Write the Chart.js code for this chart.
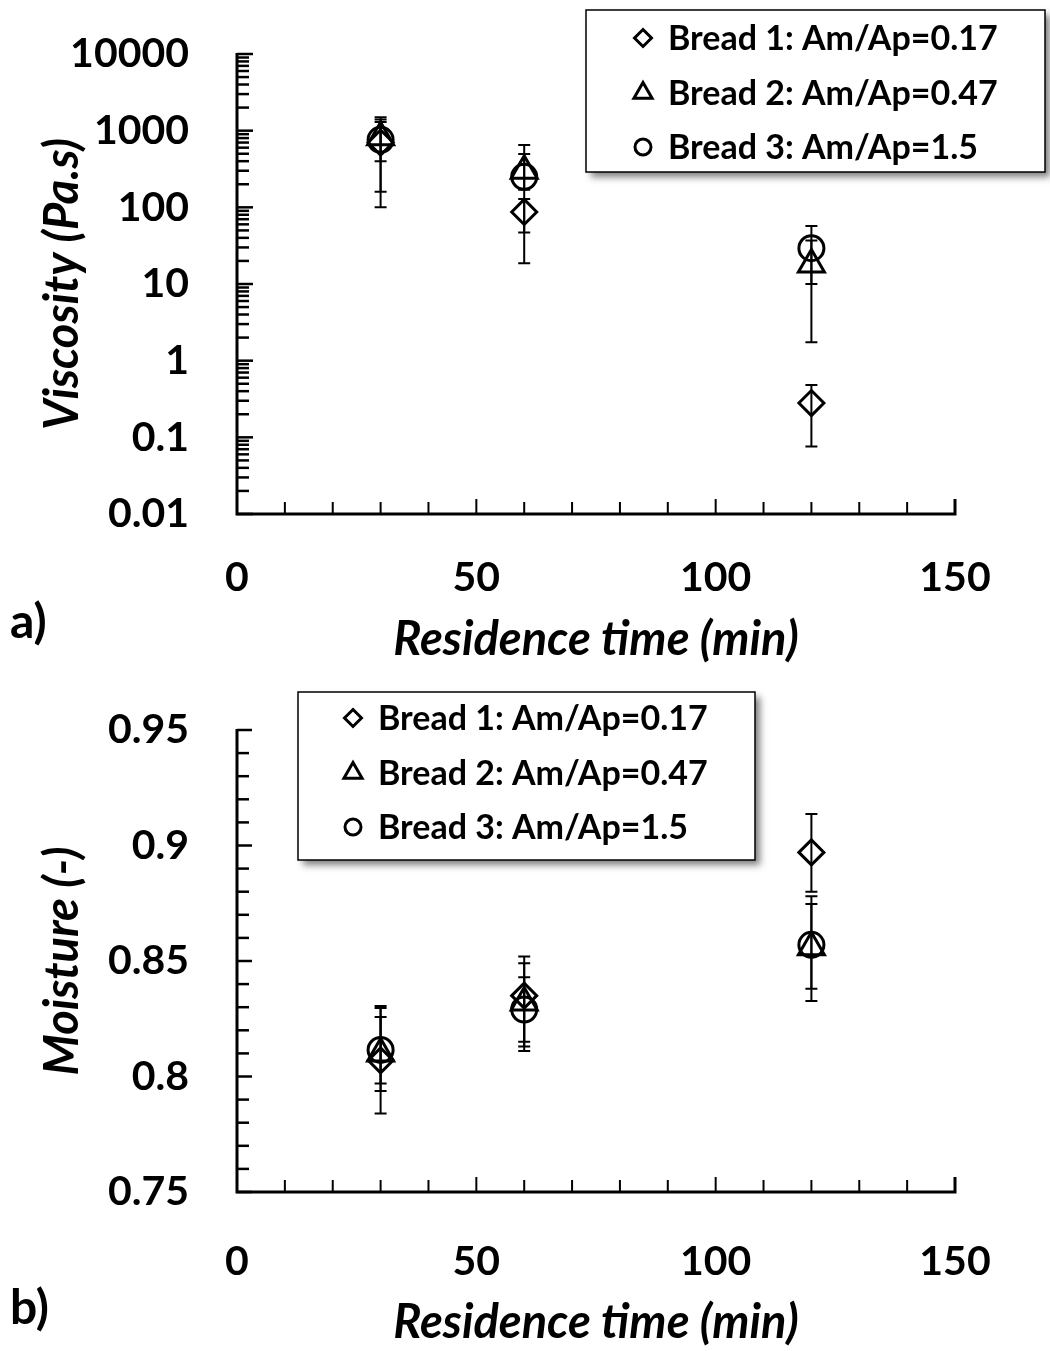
<!DOCTYPE html>
<html>
<head>
<meta charset="utf-8">
<script src="https://cdn.jsdelivr.net/npm/chart.js@4.4.0/dist/chart.umd.min.js"></script>
<style>
  body { margin: 0; background: #fff; width: 1050px; height: 1351px; position: relative; overflow: hidden; }
  canvas { position: absolute; left: 0; }
  #viscChart { top: 0; }
  #moistChart { top: 680px; }
  .panel { position: absolute; left: 10px; font: bold 48px Lato, sans-serif; line-height: 56px; color: #000; }
</style>
</head>
<body>
<canvas id="viscChart" width="1050" height="680"></canvas>
<canvas id="moistChart" width="1050" height="671"></canvas>
<div class="panel" style="top:592px">a)</div>
<div class="panel" style="top:1278px">b)</div>
<script>
// --- data ---
const residenceTime = [30, 60, 120];
const seriesNames = ['Bread 1: Am/Ap=0.17', 'Bread 2: Am/Ap=0.47', 'Bread 3: Am/Ap=1.5'];
const markerStyles = ['rectRot', 'triangle', 'circle'];

// viscosity (Pa.s) + error bar ends
const viscBread1 = [700, 87, 0.28];
const viscBread1Lo = [100, 47, 0.076];
const viscBread1Hi = [1300, 128, 0.48];
const viscBread2 = [820, 300, 18];
const viscBread2Lo = [400, 170, 10];
const viscBread2Hi = [1500, 650, 37];
const viscBread3 = [760, 250, 29.3];
const viscBread3Lo = [160, 18.7, 1.74];
const viscBread3Hi = [1400, 495, 57];

// moisture (-) + error bar ends
const moistBread1 = [0.807, 0.835, 0.897];
const moistBread1Lo = [0.784, 0.813, 0.880];
const moistBread1Hi = [0.8305, 0.852, 0.9136];
const moistBread2 = [0.810, 0.832, 0.856];
const moistBread2Lo = [0.797, 0.811, 0.8327];
const moistBread2Hi = [0.8258, 0.849, 0.8747];
const moistBread3 = [0.8115, 0.829, 0.857];
const moistBread3Lo = [0.7937, 0.815, 0.838];
const moistBread3Hi = [0.8297, 0.843, 0.878];

const xTicks = [0, 50, 100, 150];
const xTickLabels = ['0', '50', '100', '150'];
const viscTicks = [0.01, 0.1, 1, 10, 100, 1000, 10000];
const viscTickLabels = ['0.01', '0.1', '1', '10', '100', '1000', '10000'];
const moistTicks = [0.75, 0.8, 0.85, 0.9, 0.95];
const moistTickLabels = ['0.75', '0.8', '0.85', '0.9', '0.95'];

const tickFont = { family: 'Lato', size: 41, weight: 'bold' };
const titleFont = { family: 'Lato', size: 47, weight: 'bold', style: 'italic' };

// axis lines with inward ticks (Excel style)
const inwardAxes = {
  id: 'inwardAxes',
  beforeDatasetsDraw(chart, args, opts) {
    const { ctx, chartArea: a, scales: { x, y } } = chart;
    ctx.save();
    ctx.strokeStyle = '#000';
    ctx.lineWidth = 2;
    for (let v = 10; v <= 150; v += 10) {
      const px = x.getPixelForValue(v);
      const len = v % 50 === 0 ? 15 : 12;
      ctx.beginPath(); ctx.moveTo(px, a.bottom); ctx.lineTo(px, a.bottom - len); ctx.stroke();
    }
    ctx.lineWidth = 2.5;
    const yTick = (v, len) => {
      const py = y.getPixelForValue(v);
      ctx.beginPath(); ctx.moveTo(a.left, py); ctx.lineTo(a.left + len, py); ctx.stroke();
    };
    if (opts.log) {
      for (let e = -2; e <= 4; e++) {
        yTick(Math.pow(10, e), 16);
        if (e < 4) for (let k = 2; k <= 9; k++) yTick(k * Math.pow(10, e), 12);
      }
    } else {
      for (let i = 0; i <= 20; i++) yTick(0.75 + i * 0.01, i % 5 === 0 ? 15 : 12);
    }
    ctx.lineWidth = 3;
    ctx.beginPath();
    ctx.moveTo(a.left, a.top - 1);
    ctx.lineTo(a.left, a.bottom);
    ctx.lineTo(a.right, a.bottom);
    ctx.lineTo(a.right, a.bottom - 15);
    ctx.stroke();
    ctx.restore();
  }
};

// vertical error bars with caps
const errorBars = {
  id: 'errorBars',
  afterDatasetsDraw(chart) {
    const { ctx, scales: { x, y } } = chart;
    ctx.save();
    ctx.strokeStyle = '#000';
    ctx.lineWidth = 2;
    chart.data.datasets.forEach(ds => {
      ds.data.forEach((p, i) => {
        const px = x.getPixelForValue(p.x);
        const lo = y.getPixelForValue(ds.errLo[i]);
        const hi = y.getPixelForValue(ds.errHi[i]);
        ctx.beginPath();
        ctx.moveTo(px, lo); ctx.lineTo(px, hi);
        ctx.moveTo(px - 6, lo); ctx.lineTo(px + 6, lo);
        ctx.moveTo(px - 6, hi); ctx.lineTo(px + 6, hi);
        ctx.stroke();
      });
    });
    ctx.restore();
  }
};

function drawMarker(ctx, style, cx, cy) {
  ctx.beginPath();
  if (style === 'rectRot') {
    const r = 8.5;
    ctx.moveTo(cx, cy - r); ctx.lineTo(cx + r, cy); ctx.lineTo(cx, cy + r); ctx.lineTo(cx - r, cy); ctx.closePath();
  } else if (style === 'triangle') {
    const r = 10.5;
    ctx.moveTo(cx, cy - r);
    ctx.lineTo(cx + r * 0.866, cy + r * 0.5);
    ctx.lineTo(cx - r * 0.866, cy + r * 0.5);
    ctx.closePath();
  } else {
    ctx.arc(cx, cy, 8, 0, Math.PI * 2);
  }
  ctx.stroke();
}

// boxed legend with drop shadow
const boxLegend = {
  id: 'boxLegend',
  afterDraw(chart, args, o) {
    const ctx = chart.ctx;
    ctx.save();
    ctx.shadowColor = 'rgba(0,0,0,0.5)';
    ctx.shadowBlur = 7;
    ctx.shadowOffsetX = 5;
    ctx.shadowOffsetY = 5;
    ctx.fillStyle = '#fff';
    ctx.fillRect(o.left, o.top, o.width, o.height);
    ctx.restore();
    ctx.save();
    ctx.strokeStyle = '#000';
    ctx.lineWidth = 1.5;
    ctx.strokeRect(o.left, o.top, o.width, o.height);
    ctx.lineWidth = 3;
    ctx.fillStyle = '#000';
    ctx.font = 'bold 34px Lato';
    ctx.textBaseline = 'middle';
    chart.data.datasets.forEach((ds, i) => {
      const cy = o.top + o.rows[i];
      drawMarker(ctx, markerStyles[i], o.markerX, cy);
      ctx.fillText(ds.label, o.textX, cy + 1);
    });
    ctx.restore();
  }
};

function makeDatasets(values, los, his) {
  return values.map((vals, s) => ({
    label: seriesNames[s],
    data: residenceTime.map((t, i) => ({ x: t, y: vals[i] })),
    errLo: los[s],
    errHi: his[s],
    pointStyle: markerStyles[s],
    pointRadius: [12.5, 15, 12.5][s],
    pointBorderWidth: 3,
    pointBorderColor: '#000',
    pointBackgroundColor: 'rgba(0,0,0,0)',
    showLine: false
  }));
}

function xScale(labelPad, titlePad, height) {
  return {
    type: 'linear', min: 0, max: 150,
    afterBuildTicks: s => { s.ticks = xTicks.map(v => ({ value: v })); },
    ticks: { callback: (v, i) => xTickLabels[i], font: tickFont, color: '#000', padding: labelPad, maxRotation: 0 },
    grid: { display: false, drawTicks: false },
    border: { display: false },
    title: { display: true, text: 'Residence time (min)', font: titleFont, color: '#000', padding: { top: 0, bottom: titlePad } },
    afterFit: s => { s.height = height; s.paddingLeft = 0; s.paddingRight = 0; }
  };
}

function yTitle(text) {
  return { display: true, text: text, font: titleFont, color: '#000', padding: { top: 35, bottom: 0 } };
}

new Chart(document.getElementById('viscChart'), {
  type: 'scatter',
  data: {
    datasets: makeDatasets(
      [viscBread1, viscBread2, viscBread3],
      [viscBread1Lo, viscBread2Lo, viscBread3Lo],
      [viscBread1Hi, viscBread2Hi, viscBread3Hi])
  },
  options: {
    responsive: false,
    animation: false,
    events: [],
    layout: { autoPadding: false, padding: { left: 0, right: 95, top: 54, bottom: 0 } },
    scales: {
      x: xScale(39, 12, 166),
      y: {
        type: 'logarithmic', min: 0.01, max: 10000,
        afterBuildTicks: s => { s.ticks = viscTicks.map(v => ({ value: v })); },
        ticks: { callback: (v, i) => viscTickLabels[i], font: tickFont, color: '#000', padding: 48 },
        grid: { display: false, drawTicks: false },
        border: { display: false },
        title: yTitle('Viscosity (Pa.s)'),
        afterFit: s => { s.width = 237; s.paddingTop = 0; s.paddingBottom = 0; }
      }
    },
    plugins: {
      legend: { display: false },
      tooltip: { enabled: false },
      inwardAxes: { log: true },
      boxLegend: { left: 586, top: 10, width: 459, height: 162, markerX: 643, textX: 668, rows: [28, 83, 137] }
    }
  },
  plugins: [inwardAxes, errorBars, boxLegend]
});

new Chart(document.getElementById('moistChart'), {
  type: 'scatter',
  data: {
    datasets: makeDatasets(
      [moistBread1, moistBread2, moistBread3],
      [moistBread1Lo, moistBread2Lo, moistBread3Lo],
      [moistBread1Hi, moistBread2Hi, moistBread3Hi])
  },
  options: {
    responsive: false,
    animation: false,
    events: [],
    layout: { autoPadding: false, padding: { left: 0, right: 95, top: 50, bottom: 0 } },
    scales: {
      x: xScale(45, 0, 159),
      y: {
        type: 'linear', min: 0.75, max: 0.95,
        afterBuildTicks: s => { s.ticks = moistTicks.map(v => ({ value: v })); },
        ticks: { callback: (v, i) => moistTickLabels[i], font: tickFont, color: '#000', padding: 48 },
        grid: { display: false, drawTicks: false },
        border: { display: false },
        title: yTitle('Moisture (-)'),
        afterFit: s => { s.width = 237; s.paddingTop = 0; s.paddingBottom = 0; }
      }
    },
    plugins: {
      legend: { display: false },
      tooltip: { enabled: false },
      inwardAxes: { log: false },
      boxLegend: { left: 298, top: 12, width: 457, height: 168, markerX: 353, textX: 378, rows: [26, 81, 135] }
    }
  },
  plugins: [inwardAxes, errorBars, boxLegend]
});
</script>
</body>
</html>
